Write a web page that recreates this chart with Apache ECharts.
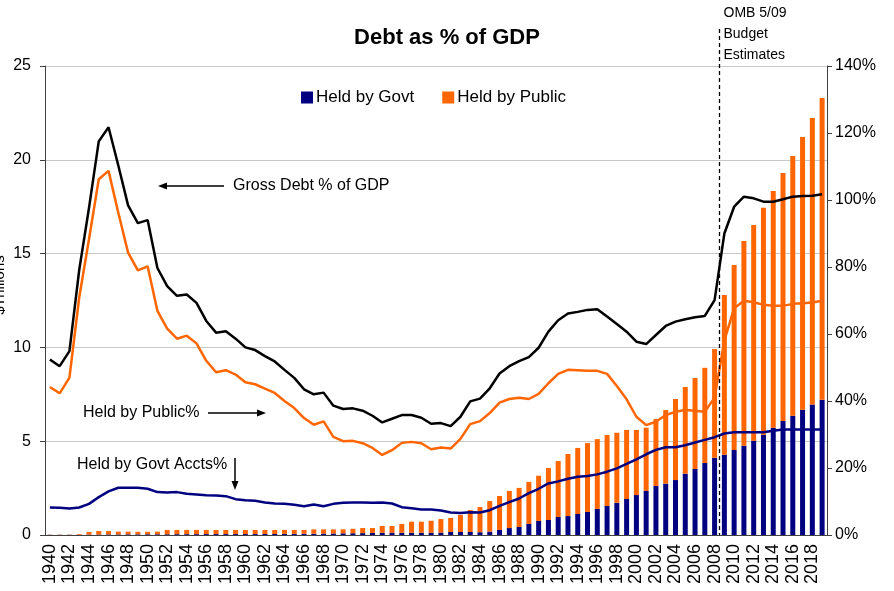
<!DOCTYPE html>
<html>
<head>
<meta charset="utf-8">
<script src="https://cdn.jsdelivr.net/npm/echarts@6/dist/echarts.min.js"></script>
<style>
html, body { margin: 0; padding: 0; background: #fff; }
#chart { width: 894px; height: 591px; }
</style>
</head>
<body>
<div id="chart"></div>
<script>
const years = [
    '1940','1941','1942','1943','1944','1945','1946','1947','1948','1949',
    '1950','1951','1952','1953','1954','1955','1956','1957','1958','1959',
    '1960','1961','1962','1963','1964','1965','1966','1967','1968','1969',
    '1970','1971','1972','1973','1974','1975','1976','1977','1978','1979',
    '1980','1981','1982','1983','1984','1985','1986','1987','1988','1989',
    '1990','1991','1992','1993','1994','1995','1996','1997','1998','1999',
    '2000','2001','2002','2003','2004','2005','2006','2007','2008','2009',
    '2010','2011','2012','2013','2014','2015','2016','2017','2018','2019'
];

// $ trillions, stacked bars
const heldByGovt = [
    0.01, 0.01, 0.01, 0.015, 0.02, 0.025, 0.03, 0.03, 0.035, 0.035,
    0.04, 0.04, 0.04, 0.045, 0.045, 0.045, 0.05, 0.05, 0.05, 0.05,
    0.05, 0.05, 0.055, 0.055, 0.06, 0.06, 0.065, 0.07, 0.075, 0.08,
    0.09, 0.095, 0.10, 0.11, 0.12, 0.12, 0.12, 0.12, 0.12, 0.12,
    0.13, 0.16, 0.16, 0.16, 0.15, 0.18, 0.27, 0.37, 0.43, 0.59,
    0.75, 0.80, 0.96, 1.01, 1.12, 1.23, 1.39, 1.55, 1.72, 1.92,
    2.13, 2.35, 2.61, 2.74, 2.93, 3.27, 3.52, 3.84, 4.12, 4.28,
    4.53, 4.76, 5.03, 5.35, 5.72, 6.08, 6.36, 6.68, 6.95, 7.21
];
const heldByPublic = [
    0.01, 0.01, 0.01, 0.035, 0.14, 0.185, 0.18, 0.15, 0.145, 0.135,
    0.13, 0.14, 0.23, 0.225, 0.225, 0.225, 0.22, 0.22, 0.22, 0.22,
    0.22, 0.22, 0.215, 0.215, 0.21, 0.21, 0.205, 0.23, 0.225, 0.22,
    0.21, 0.235, 0.27, 0.26, 0.36, 0.36, 0.47, 0.59, 0.59, 0.64,
    0.72, 0.75, 0.91, 1.17, 1.34, 1.63, 1.81, 1.98, 2.08, 2.24,
    2.41, 2.77, 2.98, 3.31, 3.52, 3.67, 3.72, 3.78, 3.73, 3.68,
    3.47, 3.37, 3.57, 3.92, 4.32, 4.62, 4.85, 5.07, 5.79, 8.51,
    9.86, 10.91, 11.49, 12.10, 12.62, 13.22, 13.84, 14.54, 15.28, 16.08
];

// % of GDP, right axis
const grossPct = [
    52.4, 50.4, 54.9, 79.1, 97.6, 117.5, 121.7, 110.3, 98.4, 93.1,
    94.0, 79.7, 74.3, 71.4, 71.8, 69.3, 63.9, 60.4, 60.8, 58.6,
    56.0, 55.2, 53.4, 51.8, 49.3, 46.9, 43.5, 42.0, 42.5, 38.6,
    37.6, 37.8, 37.1, 35.6, 33.6, 34.7, 35.8, 35.8, 35.0, 33.2,
    33.4, 32.5, 35.3, 39.9, 40.7, 43.8, 48.2, 50.4, 51.9, 53.1,
    55.9, 60.7, 64.1, 66.1, 66.6, 67.2, 67.4, 65.2, 63.0, 60.7,
    57.7, 57.0, 59.7, 62.4, 63.7, 64.4, 65.0, 65.4, 70.1, 90.0,
    98.0, 101.0, 100.5, 99.5, 99.5, 100.2, 101.0, 101.2, 101.3, 101.7
];
const publicPct = [
    44.2, 42.3, 47.0, 70.9, 88.3, 106.2, 108.7, 96.2, 84.3, 79.0,
    80.2, 66.9, 61.6, 58.6, 59.5, 57.2, 52.0, 48.6, 49.2, 47.9,
    45.6, 45.0, 43.7, 42.4, 40.0, 37.9, 34.9, 32.9, 33.9, 29.3,
    28.0, 28.1, 27.4, 26.0, 23.9, 25.3, 27.5, 27.8, 27.4, 25.6,
    26.1, 25.8, 28.7, 33.1, 34.0, 36.4, 39.5, 40.6, 41.0, 40.6,
    42.1, 45.3, 48.1, 49.3, 49.2, 49.0, 49.0, 48.1, 44.5, 40.5,
    35.3, 32.8, 33.8, 35.8, 36.8, 37.3, 37.1, 36.8, 41.0, 58.0,
    67.7, 69.9, 69.5, 68.7, 68.4, 68.4, 69.0, 69.2, 69.4, 69.9
];
const govtPct = [
    8.2, 8.1, 7.9, 8.2, 9.3, 11.3, 13.0, 14.1, 14.1, 14.1,
    13.8, 12.8, 12.7, 12.8, 12.3, 12.1, 11.9, 11.8, 11.6, 10.7,
    10.4, 10.2, 9.7, 9.4, 9.3, 9.0, 8.6, 9.1, 8.6, 9.3,
    9.6, 9.7, 9.7, 9.6, 9.7, 9.4, 8.3, 8.0, 7.6, 7.6,
    7.3, 6.7, 6.6, 6.8, 6.7, 7.4, 8.7, 9.8, 10.9, 12.5,
    13.8, 15.4, 16.0, 16.8, 17.4, 17.6, 18.1, 18.9, 19.9, 21.2,
    22.6, 24.1, 25.4, 26.2, 26.2, 26.8, 27.6, 28.4, 29.2, 30.3,
    30.7, 30.7, 30.7, 30.7, 31.1, 31.5, 31.5, 31.5, 31.5, 31.5
];

const FONT = '"Liberation Sans", Arial, sans-serif';
const AXIS_COLOR = '#404040';

const chart = echarts.init(document.getElementById('chart'));

const option = {
    animation: false,
    textStyle: { fontFamily: FONT, color: '#000' },
    title: {
        text: 'Debt as % of GDP',
        left: 'center',
        top: 22,
        textStyle: { fontFamily: FONT, fontSize: 22, fontWeight: 'bold', color: '#000' }
    },
    legend: {
        data: ['Held by Govt', 'Held by Public'],
        left: 301,
        top: 89,
        padding: 0,
        itemWidth: 12,
        itemHeight: 12,
        itemGap: 28,
        icon: 'rect',
        textStyle: { fontFamily: FONT, fontSize: 17, color: '#000', padding: [0, 0, 0, -2] }
    },
    grid: { left: 45, right: 67, top: 66, bottom: 56, outerBoundsMode: 'none' },
    xAxis: {
        type: 'category',
        data: years,
        axisLine: { lineStyle: { color: AXIS_COLOR, width: 1 } },
        axisTick: { interval: 0, length: 5, lineStyle: { color: AXIS_COLOR } },
        axisLabel: {
            interval: 1,
            rotate: 90,
            fontSize: 18,
            color: '#000',
            margin: 9,
            fontFamily: FONT
        }
    },
    yAxis: [
        {
            type: 'value',
            min: 0,
            max: 25,
            interval: 5,
            axisLine: { show: true, lineStyle: { color: AXIS_COLOR } },
            axisTick: { show: true, length: 5, lineStyle: { color: AXIS_COLOR } },
            axisLabel: { fontSize: 16, color: '#000', margin: 14, fontFamily: FONT },
            splitLine: { lineStyle: { color: '#c8c8c8', width: 1 } }
        },
        {
            type: 'value',
            position: 'right',
            min: 0,
            max: 140,
            interval: 20,
            axisLine: { show: true, lineStyle: { color: AXIS_COLOR } },
            axisTick: { show: true, length: 5, lineStyle: { color: AXIS_COLOR } },
            axisLabel: { fontSize: 16, color: '#000', margin: 8, formatter: '{value}%', fontFamily: FONT },
            splitLine: { show: false }
        }
    ],
    series: [
        {
            name: 'Held by Govt',
            type: 'bar',
            stack: 'debt',
            data: heldByGovt,
            barWidth: 5,
            itemStyle: { color: '#000080' }
        },
        {
            name: 'Held by Public',
            type: 'bar',
            stack: 'debt',
            data: heldByPublic,
            barWidth: 5,
            itemStyle: { color: '#FF6600' }
        },
        {
            name: 'Gross Debt %',
            type: 'line',
            yAxisIndex: 1,
            data: grossPct,
            symbol: 'none',
            lineStyle: { color: '#000000', width: 2.5 }
        },
        {
            name: 'Held by Public %',
            type: 'line',
            yAxisIndex: 1,
            data: publicPct,
            symbol: 'none',
            lineStyle: { color: '#FF6600', width: 2.5 }
        },
        {
            name: 'Held by Govt Accts %',
            type: 'line',
            yAxisIndex: 1,
            data: govtPct,
            symbol: 'none',
            lineStyle: { color: '#000080', width: 2.5 }
        }
    ]
};

chart.setOption(option);

// dashed divider between actuals (2008) and OMB estimates (2009)
const x2008 = chart.convertToPixel({ xAxisIndex: 0 }, '2008');
const x2009 = chart.convertToPixel({ xAxisIndex: 0 }, '2009');
const divX = Math.round((x2008 + x2009) / 2) + 0.5;
const baseY = chart.convertToPixel({ yAxisIndex: 0 }, 0);

function arrow(x1, y1, x2, y2) {
    const ang = Math.atan2(y2 - y1, x2 - x1);
    const len = 9, w = 3.5;
    const bx = x2 - len * Math.cos(ang), by = y2 - len * Math.sin(ang);
    const px = -Math.sin(ang) * w, py = Math.cos(ang) * w;
    return [
        { type: 'line', shape: { x1: x1, y1: y1, x2: bx, y2: by }, style: { stroke: '#000', lineWidth: 1.5 } },
        { type: 'polygon', shape: { points: [[x2, y2], [bx + px, by + py], [bx - px, by - py]] }, style: { fill: '#000' } }
    ];
}

function label(text, x, y, size) {
    return {
        type: 'text',
        x: x,
        y: y,
        style: { text: text, fontFamily: FONT, fontSize: size || 16, fill: '#000', textVerticalAlign: 'middle' }
    };
}

chart.setOption({
    graphic: [
        // y axis title, partly cut off by the left edge as in the original
        {
            type: 'text',
            x: 0,
            y: 285,
            rotation: Math.PI / 2,
            style: { text: '$Trillions', fontFamily: FONT, fontSize: 15, fill: '#000', align: 'center', verticalAlign: 'middle' }
        },
        { type: 'line', shape: { x1: divX, y1: 29, x2: divX, y2: baseY }, style: { stroke: '#000', lineWidth: 1.3, lineDash: [4, 3] }, z: 10 },
        label('OMB 5/09', divX + 4, 13, 14),
        label('Budget', divX + 4, 34, 14),
        label('Estimates', divX + 4, 55, 14),
        label('Gross Debt % of GDP', 233, 186),
        ...arrow(224, 186, 158, 186),
        label('Held by Public%', 83, 413),
        ...arrow(208, 413, 266, 413),
        label('Held by Govt Accts%', 77, 465),
        ...arrow(235, 458, 235, 490)
    ]
});
</script>
</body>
</html>
